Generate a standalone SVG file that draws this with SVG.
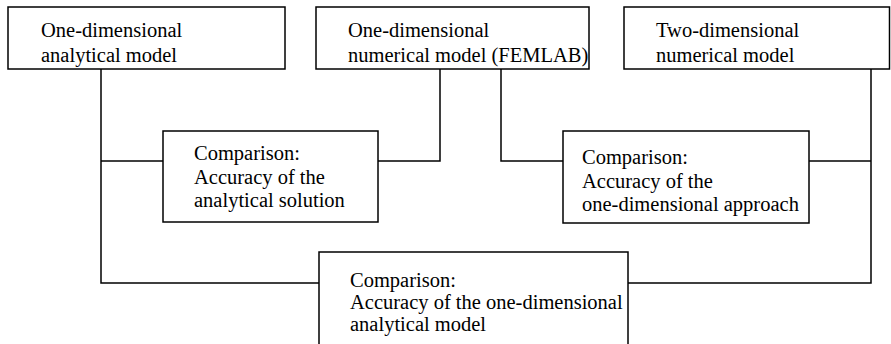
<svg xmlns="http://www.w3.org/2000/svg" width="891" height="344" viewBox="0 0 891 344">
<style>
.box{fill:#fff;stroke:#000;stroke-width:1.5}
.ln{fill:none;stroke:#000;stroke-width:1.5}
.t{font-size:20.5px;fill:#000}
</style>
<rect width="891" height="344" fill="#fff"/>
<g id="connectors">
<path class="ln" d="M101,69 V283 H319"/>
<path class="ln" d="M101,161 H163"/>
<path class="ln" d="M378,161 H440 V69"/>
<path class="ln" d="M501,69 V161 H563"/>
<path class="ln" d="M809,161 H871"/>
<path class="ln" d="M871,69 V283 H628"/>
</g>
<g font-family="'Liberation Serif', 'DejaVu Serif', serif" class="t">
<g id="n1">
<rect class="box" x="8" y="7" width="277" height="62"/>
<text x="41" y="37">One-dimensional</text>
<text x="41" y="62">analytical model</text>
</g>
<g id="n2">
<rect class="box" x="316" y="7" width="273" height="62"/>
<text x="348" y="37">One-dimensional</text>
<text x="348" y="62">numerical model (FEMLAB)</text>
</g>
<g id="n3">
<rect class="box" x="624" y="7" width="265.5" height="62"/>
<text x="656" y="37">Two-dimensional</text>
<text x="656" y="62">numerical model</text>
</g>
<g id="n4">
<rect class="box" x="163" y="131" width="215" height="91"/>
<text x="194" y="160">Comparison:</text>
<text x="194" y="184">Accuracy of the</text>
<text x="194" y="207">analytical solution</text>
</g>
<g id="n5">
<rect class="box" x="563" y="131" width="246" height="92"/>
<text x="582" y="164">Comparison:</text>
<text x="582" y="188">Accuracy of the</text>
<text x="582" y="211">one-dimensional approach</text>
</g>
<g id="n6">
<rect class="box" x="319" y="252" width="309" height="100"/>
<text x="350" y="287">Comparison:</text>
<text x="350" y="309">Accuracy of the one-dimensional</text>
<text x="350" y="331">analytical model</text>
</g>
</g>
</svg>
